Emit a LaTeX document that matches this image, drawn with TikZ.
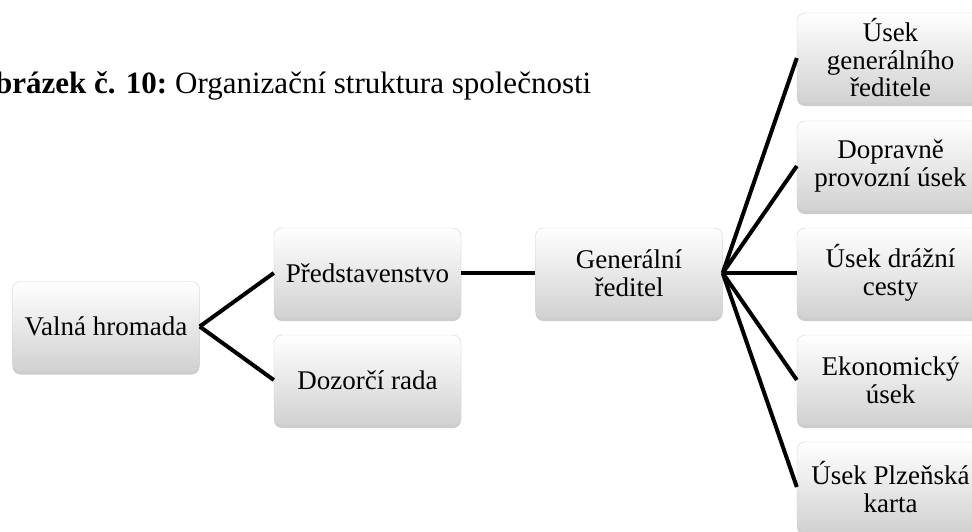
\documentclass[tikz,border=0pt]{standalone}
\usepackage{fontspec}
\setmainfont{Liberation Serif}
\usetikzlibrary{shadows}
\tikzset{
  orgbox/.style={draw=black!18, rounded corners=8pt, top color=white, bottom color=black!18,
    drop shadow={shadow xshift=0pt, shadow yshift=-3pt, opacity=0.4},
    minimum width=187pt, minimum height=90pt, inner sep=2pt, align=center,
    font=\fontsize{27}{27.5}\selectfont},
  orgline/.style={line width=4pt, black}
}
\begin{document}
\begin{tikzpicture}[x=1pt,y=-1pt]
\useasboundingbox (0,0) rectangle (972,531);
% caption
\node (caption) [anchor=base west, inner sep=0pt, font=\fontsize{31}{34}\selectfont] at (175,93) {Organizační struktura společnosti};
\node (captionlabel) [anchor=base east, inner sep=0pt, font=\fontsize{31}{34}\selectfont\bfseries] at ([xshift=-7.5pt]caption.base west) {Obrázek č. 10:};
% boxes
\node (valna) [orgbox] at (106,326.5) {Valná hromada};
\node (predst) [orgbox] at (367.5,273) {Představenstvo};
\node (dozor) [orgbox] at (367.5,380) {Dozorčí rada};
\node (gen) [orgbox] at (629,273) {Generální\\ ředitel};
\node (usek1) [orgbox] at (890.5,58) {Úsek\\ generálního\\ ředitele};
\node (usek2) [orgbox] at (890.5,166) {Dopravně\\ provozní úsek};
\node (usek3) [orgbox] at (890.5,273) {Úsek drážní\\ cesty};
\node (usek4) [orgbox] at (890.5,380) {Ekonomický\\ úsek};
\node (usek5) [orgbox] at (890.5,487) {Úsek Plzeňská\\ karta};
% lines
\draw [orgline] (valna.east) -- (predst.west);
\draw [orgline] (valna.east) -- (dozor.west);
\draw [orgline] (predst.east) -- (gen.west);
\foreach \i in {1,...,5}
  \draw [orgline] (gen.east) -- (usek\i.west);
\end{tikzpicture}
\end{document}
